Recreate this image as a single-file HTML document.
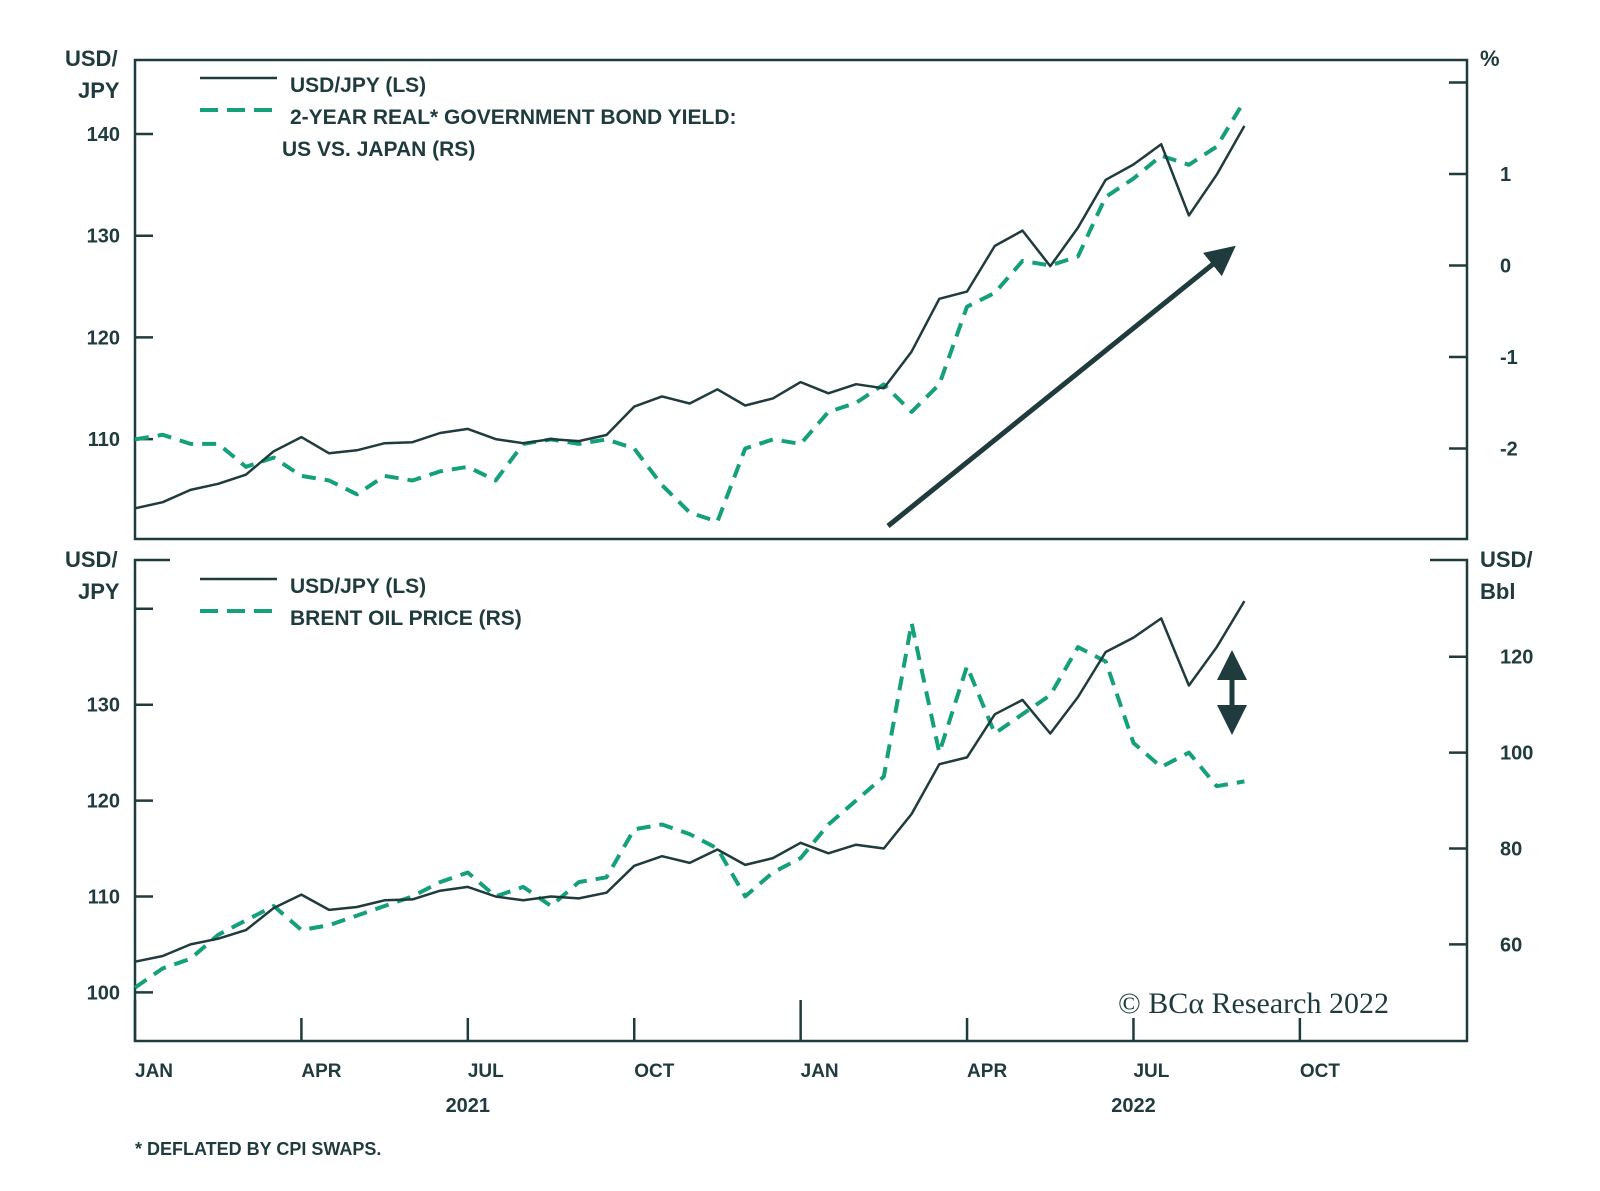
<!DOCTYPE html>
<html><head><meta charset="utf-8"><style>
body{margin:0;background:#fff;width:1600px;height:1186px;overflow:hidden}
svg text{font-family:"Liberation Sans",sans-serif;fill:#1f3b3d;font-weight:bold}
</style></head><body>
<svg id="c" width="1600" height="1186"></svg>
<script>
const months=[0,0.5,1,1.5,2,2.5,3,3.5,4,4.5,5,5.5,6,6.5,7,7.5,8,8.5,9,9.5,10,10.5,11,11.5,12,12.5,13,13.5,14,14.5,15,15.5,16,16.5,17,17.5,18,18.5,19,19.5,20];
const usdjpy=[103.2,103.8,105.0,105.6,106.5,108.8,110.2,108.6,108.9,109.6,109.7,110.6,111.0,110.0,109.6,110.0,109.8,110.4,113.2,114.2,113.5,114.9,113.3,114.0,115.6,114.5,115.4,115.0,118.6,123.8,124.5,129.0,130.5,127.0,130.8,135.5,137.0,139.0,132.0,136.0,140.8];
const realYield=[-1.9,-1.85,-1.95,-1.95,-2.2,-2.1,-2.3,-2.35,-2.5,-2.3,-2.35,-2.25,-2.2,-2.35,-1.95,-1.9,-1.95,-1.9,-2.0,-2.4,-2.7,-2.8,-2.0,-1.9,-1.95,-1.6,-1.5,-1.3,-1.6,-1.3,-0.45,-0.3,0.05,0.0,0.1,0.75,0.95,1.2,1.1,1.3,1.8];
const brent=[51,55,57,62,65,68,63,64,66,68,70,73,75,70,72,68,73,74,84,85,83,80,70,75,78,85,90,95,127,100,118,104,108,112,122,119,102,97,100,93,94];
const leftTop=[110,120,130,140], rightTop=[-2,-1,0,1], leftBot=[100,110,120,130], rightBot=[60,80,100,120];
const xLabels=["JAN","APR","JUL","OCT","JAN","APR","JUL","OCT"];
const X0=135,X1=1467,MW=55.47;
const x=m=>X0+m*MW;
const yTL=v=>134+(140-v)*10.17, yTR=v=>265.5-v*91.5;
const yBL=v=>992.4-(v-100)*9.59, yBR=v=>944.4-(v-60)*4.795;
const S=document.getElementById('c');const NS='http://www.w3.org/2000/svg';
function el(t,a,txt){const e=document.createElementNS(NS,t);for(const k in a)e.setAttribute(k,a[k]);if(txt!=null)e.textContent=txt;S.appendChild(e);return e;}
const ink='#1f3b3d',grn='#13a07a';
// frames
let f1=el('rect',{x:X0,y:60,width:X1-X0,height:479,fill:'none',stroke:ink,'stroke-width':2.5});

let f2=el('rect',{x:X0,y:560,width:X1-X0,height:481,fill:'none',stroke:ink,'stroke-width':2.5});

el('rect',{x:170,y:550,width:1260,height:18,fill:'#fff'});
// axis titles
el('text',{x:65,y:66,'font-size':22},'USD/');el('text',{x:78,y:98,'font-size':22},'JPY');
el('text',{x:1480,y:66,'font-size':22},'%');
el('text',{x:65,y:567,'font-size':22},'USD/');el('text',{x:78,y:599,'font-size':22},'JPY');
el('text',{x:1480,y:567,'font-size':22},'USD/');el('text',{x:1480,y:599,'font-size':22},'Bbl');
// ticks
function lt(v,f,lab){const y=f(v);el('line',{x1:X0,x2:X0+18,y1:y,y2:y,stroke:ink,'stroke-width':2.5});if(lab){let t=el('text',{x:120,y:y+7,'font-size':20,'text-anchor':'end'},v);}}
function rt(v,f,lab){const y=f(v);el('line',{x1:X1-18,x2:X1,y1:y,y2:y,stroke:ink,'stroke-width':2.5});if(lab){let t=el('text',{x:1500,y:y+7,'font-size':20},v);}}
leftTop.forEach(v=>lt(v,yTL,1));rightTop.forEach(v=>rt(v,yTR,1));rt(2,yTR,0);
leftBot.forEach(v=>lt(v,yBL,1));lt(140,yBL,0);rightBot.forEach(v=>rt(v,yBR,1));
xLabels.forEach((l,i)=>{const xx=x(i*3);el('line',{x1:xx,x2:xx,y1:1041,y2:i%4==0?1000:1018,stroke:ink,'stroke-width':2.5});
 let t=el('text',{x:xx,y:1077,'font-size':19},l);});
el('text',{x:x(6),y:1112,'font-size':20,'text-anchor':'middle'},'2021');
el('text',{x:x(18),y:1112,'font-size':20,'text-anchor':'middle'},'2022');
// series
function line(arr,fy,dash,col,name){const d=arr.map((v,i)=>(i?'L':'M')+x(months[i]).toFixed(1)+','+fy(v).toFixed(1)).join('');
 const p=el('path',{d:d,fill:'none',stroke:col,'stroke-width':dash?4:2.5,'stroke-dasharray':dash?'14 9':'none','stroke-linejoin':'round'});
 }
line(realYield,yTR,1,grn,'real-yield-line');line(usdjpy,yTL,0,ink,'usdjpy-top-line');
line(brent,yBR,1,grn,'brent-line');line(usdjpy,yBL,0,ink,'usdjpy-bottom-line');
// legends
el('line',{x1:200,x2:277,y1:78,y2:78,stroke:ink,'stroke-width':2.5});
el('line',{x1:200,x2:277,y1:110,y2:110,stroke:grn,'stroke-width':4,'stroke-dasharray':'18 9'});
el('text',{x:290,y:92,'font-size':21},'USD/JPY (LS)');
el('text',{x:290,y:124,'font-size':21},'2-YEAR REAL* GOVERNMENT BOND YIELD:');
el('text',{x:282,y:156,'font-size':21},'US VS. JAPAN (RS)');
el('line',{x1:200,x2:277,y1:579,y2:579,stroke:ink,'stroke-width':2.5});
el('line',{x1:200,x2:277,y1:611,y2:611,stroke:grn,'stroke-width':4,'stroke-dasharray':'18 9'});
el('text',{x:290,y:593,'font-size':21},'USD/JPY (LS)');
el('text',{x:290,y:625,'font-size':21},'BRENT OIL PRICE (RS)');
// arrows
el('defs',{}).innerHTML='<marker id="ah" markerWidth="6" markerHeight="6" refX="4" refY="3" orient="auto"><path d="M0,0L6,3L0,6z" fill="'+ink+'"/></marker><marker id="ah2" markerWidth="6" markerHeight="6" refX="4" refY="3" orient="auto-start-reverse"><path d="M0,0L6,3L0,6z" fill="'+ink+'"/></marker>';
let a1=el('line',{x1:888,y1:526,x2:1228,y2:252,stroke:ink,'stroke-width':5,'marker-end':'url(#ah)'});

let a2=el('line',{x1:1232,y1:660,x2:1232,y2:725,stroke:ink,'stroke-width':5,'marker-end':'url(#ah2)','marker-start':'url(#ah2)'});

let c=el('text',{x:1118,y:1013,'font-size':30,style:'font-family:"Liberation Serif",serif;font-weight:normal'},'© BCα Research 2022');

el('text',{x:135,y:1155,'font-size':18},'* DEFLATED BY CPI SWAPS.');
</script></body></html>
